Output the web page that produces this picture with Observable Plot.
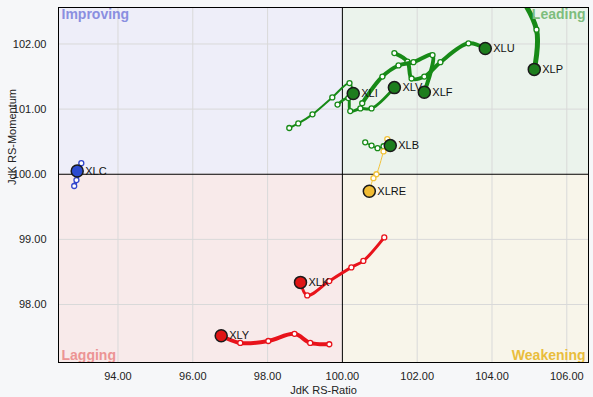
<!DOCTYPE html>
<html><head><meta charset="utf-8">
<script src="https://cdn.jsdelivr.net/npm/d3@7"></script>
<script src="https://cdn.jsdelivr.net/npm/@observablehq/plot@0.6"></script>
<style>
body{margin:0;background:#f6f7f9;}
#chart svg{display:block;}
</style>
</head><body><div id="chart"></div>
<script>
// Symbols, tail colours and line widths
const symbols = ["XLP","XLU","XLF","XLV","XLI","XLB","XLRE","XLC","XLK","XLY"];
const symbolColors = ["#178a17","#178a17","#178a17","#178a17","#178a17","#178a17","#f2c23a","#3346cc","#e8131b","#e8131b"];
const headColors = ["#1d7d1d","#1d7d1d","#1d7d1d","#1d7d1d","#1d7d1d","#1d7d1d","#f0bb33","#2b4bd0","#e01515","#e01515"];
const lineWidths = [5,4,4,3,2,1.5,1,3.5,3,4];

// Tails (oldest -> newest); last value is the head
const XLP_ratio = [103.69,104.36,105.19,105.13];
const XLP_momentum = [103.44,103.05,102.22,101.61];
const XLU_ratio = [101.39,101.74,101.85,102.19,102.62,103.37,103.82];
const XLU_momentum = [101.86,101.73,101.47,101.50,101.72,102.01,101.93];
const XLF_ratio = [100.53,101.07,101.50,101.90,102.41,102.19];
const XLF_momentum = [101.09,101.50,101.67,101.72,101.83,101.26];
const XLV_ratio = [99.87,100.16,100.21,100.48,100.78,101.39];
const XLV_momentum = [101.07,101.17,100.97,101.01,101.01,101.33];
const XLI_ratio = [98.58,98.82,99.20,99.73,100.19,100.29];
const XLI_momentum = [100.71,100.78,100.92,101.18,101.40,101.24];
const XLB_ratio = [100.61,100.78,100.94,101.10,101.28];
const XLB_momentum = [100.49,100.44,100.40,100.43,100.44];
const XLRE_ratio = [101.20,101.10,100.91,100.83,100.72];
const XLRE_momentum = [100.54,100.35,100.00,99.94,99.74];
const XLC_ratio = [92.83,92.89,93.02,92.91];
const XLC_momentum = [99.82,99.91,100.17,100.05];
const XLK_ratio = [101.12,100.56,100.24,99.65,99.06,98.88];
const XLK_momentum = [99.03,98.67,98.57,98.36,98.14,98.34];
const XLY_ratio = [99.65,99.14,98.72,98.02,97.27,96.76];
const XLY_momentum = [97.39,97.41,97.55,97.44,97.41,97.52];

// Axes
const xDomain = [92.41, 106.58];
const yDomain = [97.11, 102.56];
const xTicks = [94,96,98,100,102,104,106];
const yTicks = [98,99,100,101,102];
const center = 100;

// Quadrants
const quadrantNames = ["Improving","Leading","Lagging","Weakening"];
const quadrantFills = ["#eeeef9","#ebf3ec","#f8eaea","#f8f5ea"];
const quadrantTextColors = ["#8a8fe0","#7dbd7d","#ec9494","#e9bd3c"];

const series = {
  XLP:[XLP_ratio,XLP_momentum], XLU:[XLU_ratio,XLU_momentum], XLF:[XLF_ratio,XLF_momentum],
  XLV:[XLV_ratio,XLV_momentum], XLI:[XLI_ratio,XLI_momentum], XLB:[XLB_ratio,XLB_momentum],
  XLRE:[XLRE_ratio,XLRE_momentum], XLC:[XLC_ratio,XLC_momentum], XLK:[XLK_ratio,XLK_momentum],
  XLY:[XLY_ratio,XLY_momentum]
};

const quads = [
  {name:quadrantNames[0], x1:xDomain[0], x2:center, y1:center, y2:yDomain[1], fill:quadrantFills[0]},
  {name:quadrantNames[1], x1:center, x2:xDomain[1], y1:center, y2:yDomain[1], fill:quadrantFills[1]},
  {name:quadrantNames[2], x1:xDomain[0], x2:center, y1:yDomain[0], y2:center, fill:quadrantFills[2]},
  {name:quadrantNames[3], x1:center, x2:xDomain[1], y1:yDomain[0], y2:center, fill:quadrantFills[3]}
];

const marks = [
  Plot.rect(quads, {x1:"x1", x2:"x2", y1:"y1", y2:"y2", fill:"fill"}),
  Plot.gridX(xTicks.filter(d => d !== center), {stroke:"#d9d9d9", strokeOpacity:1}),
  Plot.gridY(yTicks.filter(d => d !== center), {stroke:"#d9d9d9", strokeOpacity:1}),
  Plot.ruleX([center], {stroke:"#000", strokeWidth:1}),
  Plot.ruleY([center], {stroke:"#000", strokeWidth:1})
];

const heads = [];
symbols.forEach((s, k) => {
  const [rx, my] = series[s];
  const pts = rx.map((x, i) => ({sym:s, x, y:my[i]}));
  marks.push(Plot.line(pts, {x:"x", y:"y", stroke:symbolColors[k], strokeWidth:lineWidths[k], curve:"catmull-rom", clip:true, strokeLinecap:"round", strokeLinejoin:"round"}));
  marks.push(Plot.dot(pts.slice(0, -1), {x:"x", y:"y", r:2.5, fill:"#fff", stroke:symbolColors[k], strokeWidth:1.3, clip:true}));
  heads.push({sym:s, x:rx[rx.length-1], y:my[my.length-1], fill:headColors[k]});
});
marks.push(Plot.dot(heads, {x:"x", y:"y", r:6, fill:"fill", stroke:"#1a1a1a", strokeWidth:1.5}));
marks.push(Plot.text(heads, {x:"x", y:"y", text:"sym", dx:8, textAnchor:"start", fontSize:11, fill:"#111"}));

// Quadrant labels
const qAnchors = ["top-left","top-right","bottom-left","bottom-right"];
quadrantNames.forEach((q, i) => {
  const a = qAnchors[i];
  marks.push(Plot.text([q], {
    text: d => d, frameAnchor:a,
    textAnchor: a.endsWith("left") ? "start" : "end",
    lineAnchor: a.startsWith("top") ? "top" : "bottom",
    dx: a.endsWith("left") ? 3 : -3, dy: a.startsWith("top") ? 2 : -3,
    fill: quadrantTextColors[i], fontSize:14, fontWeight:"bold"
  }));
});

marks.push(Plot.frame({stroke:"#000", strokeWidth:1}));
marks.push(Plot.axisX(xTicks, {tickSize:0, tickPadding:10, tickFormat:d => d.toFixed(2), label:null, fontSize:11, fill:"#222"}));
marks.push(Plot.axisY(yTicks, {tickSize:0, tickPadding:12, tickFormat:d => d.toFixed(2), label:null, fontSize:11, fill:"#222"}));
marks.push(Plot.text(["JdK RS-Ratio"], {text:d=>d, frameAnchor:"bottom", lineAnchor:"middle", dy:28, fontSize:11, fill:"#222"}));
marks.push(Plot.text(["JdK RS-Momentum"], {text:d=>d, frameAnchor:"left", rotate:-90, dx:-46, fontSize:11, fill:"#222"}));

const chart = Plot.plot({
  width:593, height:397,
  marginLeft:58, marginRight:5, marginTop:7, marginBottom:35,
  x:{domain:xDomain},
  y:{domain:yDomain},
  style:{fontFamily:"'Liberation Sans', Arial, sans-serif", fontSize:"11px", background:"#f6f7f9", overflow:"visible"},
  marks
});
document.getElementById("chart").appendChild(chart);
</script>
</body></html>
